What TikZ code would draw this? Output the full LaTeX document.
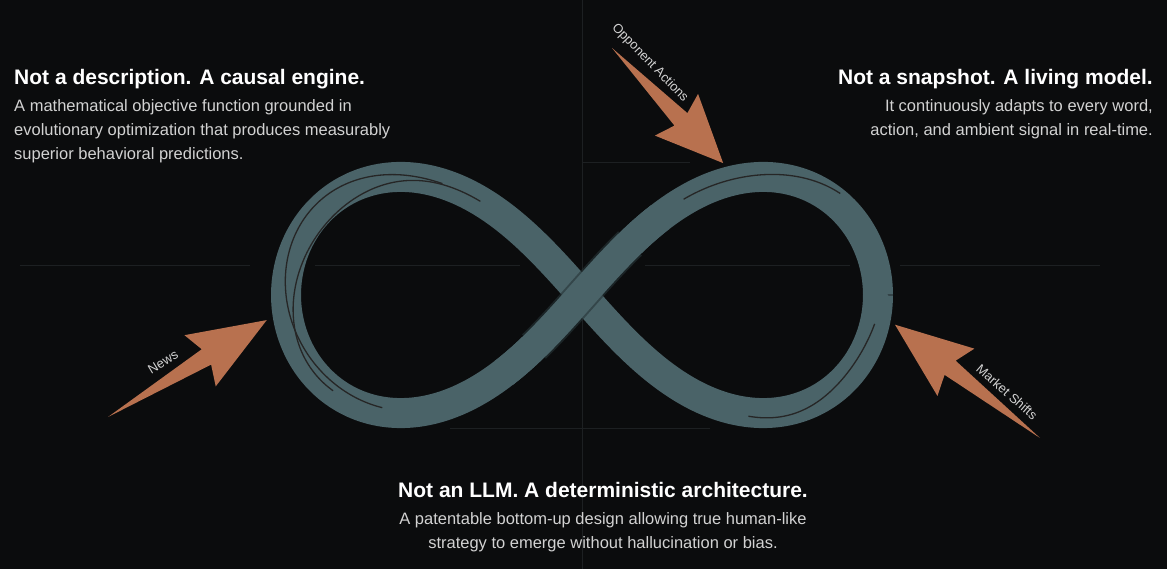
\documentclass[tikz,border=0pt]{standalone}
\usepackage{fontspec}
\setmainfont{Liberation Sans}
\usetikzlibrary{calc,positioning}

\definecolor{bgblack}{HTML}{0B0C0D}
\definecolor{gridgray}{HTML}{1D2022}
\definecolor{ribbon}{HTML}{4A6368}
\definecolor{ribbonshade}{HTML}{263437}
\definecolor{rust}{HTML}{B8714F}
\definecolor{bodygray}{HTML}{D2D2D2}

\tikzset{
  head/.style={text=white, font=\fontsize{21}{24}\selectfont\bfseries, inner sep=0pt},
  body/.style={text=bodygray, font=\fontsize{16.5}{24}\selectfont, inner sep=0pt, align=#1},
  tag/.style={text=bodygray, font=\fontsize{13}{15}\selectfont, inner sep=0pt},
  gridline/.style={gridgray, line width=0.8},
  seam/.style={black!85, line width=1.3},
}

% tapered arrow: tail coordinate #1, direction #2 (deg), length #3
\newcommand{\taperarrow}[3]{%
  \begin{scope}[shift={(#1)}, rotate=#2]
  \fill[rust] (0,0) -- ({0.62*#3},9) -- ({0.58*#3},30) -- (#3,0)
    -- ({0.58*#3},-30) -- ({0.62*#3},-9) -- cycle;
  \end{scope}}

\begin{document}
\begin{tikzpicture}[x=1pt,y=1pt,
  declare function={lx(\t)=582+296*cos(\t)/(1+sin(\t)^2);
                    ly(\t)=274+334*sin(\t)*cos(\t)/(1+sin(\t)^2);}]
\fill[bgblack] (0,0) rectangle (1167,569);
\useasboundingbox (0,0) rectangle (1167,569);

% faint grid
\draw[gridline] (582,0) -- (582,569);
\draw[gridline] (582,407) -- (690,407);
\draw[gridline] (315,304) -- (520,304) (645,304) -- (850,304);
\draw[gridline] (450,141) -- (710,141);
\draw[gridline] (20,304) -- (250,304) (900,304) -- (1100,304);

% the ribbon
\draw[ribbon, line width=30] plot[domain=0:360, samples=240, smooth] ({lx(\x)},{ly(\x)});
\draw[ribbonshade, line width=34, opacity=0.6] plot[domain=72:108, samples=30, smooth] ({lx(\x)},{ly(\x)});
\draw[ribbon, line width=30] plot[domain=62:118, samples=60, smooth] ({lx(\x)},{ly(\x)});

% seams on the ribbon
\draw[seam] plot[domain=150:225, samples=60, smooth]
  ({582+(296+9*sin(4*\x))*cos(\x)/(1+sin(\x)^2)},{274+(334+10*sin(4*\x))*sin(\x)*cos(\x)/(1+sin(\x)^2)});
\draw[seam] plot[domain=160:235, samples=60, smooth]
  ({582+(288+8*sin(5*\x))*cos(\x)/(1+sin(\x)^2)},{274+(324+9*sin(5*\x))*sin(\x)*cos(\x)/(1+sin(\x)^2)});
\draw[seam] plot[domain=20:55, samples=40, smooth]
  ({582+(300+8*sin(6*\x))*cos(\x)/(1+sin(\x)^2)},{274+(345+9*sin(6*\x))*sin(\x)*cos(\x)/(1+sin(\x)^2)});
\draw[seam] plot[domain=-40:-5, samples=40, smooth]
  ({582+(300+7*sin(7*\x))*cos(\x)/(1+sin(\x)^2)},{274+(340+8*sin(7*\x))*sin(\x)*cos(\x)/(1+sin(\x)^2)});

% input arrows
\coordinate (newsTail) at (108,152);
\coordinate (oppTail) at (612,521);
\coordinate (mktTail) at (1040,131);
\taperarrow{newsTail}{31.4}{186}
\taperarrow{oppTail}{-46}{160}
\taperarrow{mktTail}{142}{184}

\node[tag, rotate=31] (news) at (163,207) {News};
\node[tag, rotate=-46] (opp) at (650,506) {Opponent Actions};
\node[tag, rotate=-41] (mkt) at (1007,177) {Market Shifts};

% captions
\node[head, anchor=base west] (causalHead) at (14,484) {Not a description. A causal engine.};
\node[body=left, anchor=north west] (causalBody) at (14,470)
  {A mathematical objective function grounded in\\evolutionary optimization that produces measurably\\superior behavioral predictions.};
\node[head, anchor=base east] (livingHead) at (1153,484) {Not a snapshot. A living model.};
\node[body=right, anchor=north east] (livingBody) at (1153,470)
  {It continuously adapts to every word,\\action, and ambient signal in real-time.};
\node[head, anchor=base] (llmHead) at (603,71) {Not an LLM. A deterministic architecture.};
\node[body=center, anchor=north] (llmBody) at (603,57)
  {A patentable bottom-up design allowing true human-like\\strategy to emerge without hallucination or bias.};
\end{tikzpicture}
\end{document}
